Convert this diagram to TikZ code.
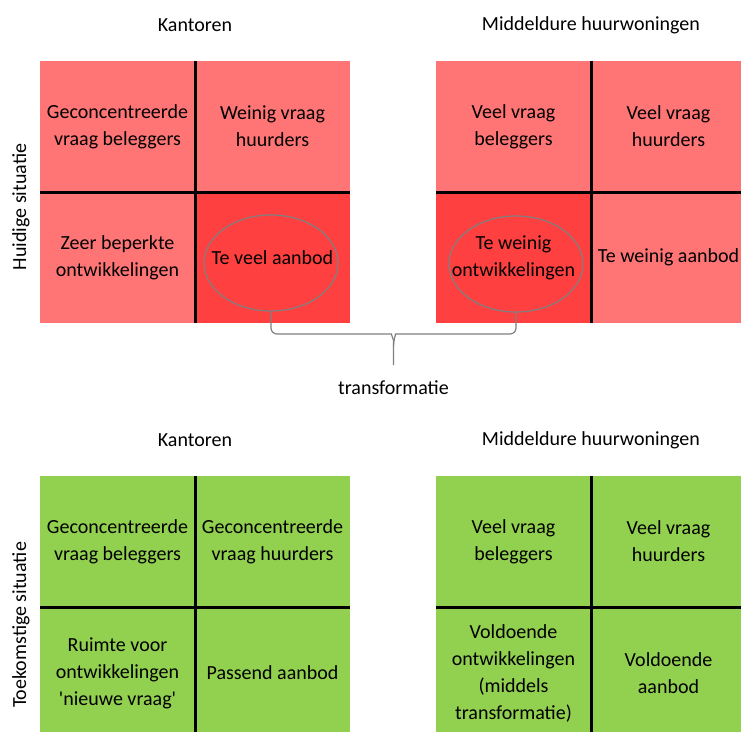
\documentclass[tikz,border=0pt]{standalone}
\usepackage{fontspec}
\setmainfont{Carlito}
\usetikzlibrary{positioning,calc,shapes.geometric}

\definecolor{roodlicht}{RGB}{255,117,117}
\definecolor{rooddonker}{RGB}{255,64,64}
\definecolor{groen}{RGB}{146,208,80}
\definecolor{grijs}{RGB}{128,128,128}

\tikzset{
  tekst/.style={font=\fontsize{20}{27}\selectfont},
  cel/.style={tekst,minimum width=155pt,minimum height=131pt,inner sep=0pt,align=center},
  deler/.style={line width=3pt,black},
  ovaal/.style={ellipse,draw=grijs,line width=1.2pt,minimum width=134pt,minimum height=96pt},
  accolade/.style={grijs,line width=1.2pt,rounded corners=6pt},
}

\begin{document}
\begin{tikzpicture}[x=1pt,y=-1pt]
      \clip (0,0) rectangle (741,731);

      % huidige situatie, kantoren
      \node[tekst] (titelKa) at (195,25) {Kantoren};
      \node[cel,fill=roodlicht] (ka11) at (117.5,126.5) {Geconcentreerde\\vraag beleggers};
      \node[cel,fill=roodlicht] (ka12) at (272.5,126.5) {Weinig vraag\\huurders};
      \node[cel,fill=roodlicht] (ka21) at (117.5,257.5) {Zeer beperkte\\ontwikkelingen};
      \node[cel,fill=rooddonker] (ka22) at (272.5,257.5) {Te veel aanbod};
      \draw[deler] (ka11.north east) -- (ka21.south east); % verticale deler
      \draw[deler] (ka11.south west) -- (ka12.south east); % horizontale deler
      \node[ovaal] (teVeel) at (271,263) {};

      % huidige situatie, middeldure huurwoningen
      \node[tekst] (titelWo) at (591,25) {Middeldure huurwoningen};
      \node[cel,fill=roodlicht] (wo11) at (513.5,126.5) {Veel vraag\\beleggers};
      \node[cel,fill=roodlicht] (wo12) at (668.5,126.5) {Veel vraag\\huurders};
      \node[cel,fill=rooddonker] (wo21) at (513.5,257.5) {Te weinig\\ontwikkelingen};
      \node[cel,fill=roodlicht] (wo22) at (668.5,257.5) {Te weinig aanbod};
      \draw[deler] (wo11.north east) -- (wo21.south east); % verticale deler
      \draw[deler] (wo11.south west) -- (wo12.south east); % horizontale deler
      \node[ovaal] (teWeinig) at (516,264) {};

      \node[tekst,rotate=90] (huidig) at (21,207) {Huidige situatie};

      % accolade transformatie
      \coordinate (punt) at (393.5,365);
      \draw[accolade] (teVeel.south) |- ($(punt)+(-8,-31)$) to[out=0,in=90] ($(punt)+(0,-19)$) -- (punt);
      \draw[accolade] (teWeinig.south) |- ($(punt)+(8,-31)$) to[out=180,in=90] ($(punt)+(0,-19)$);
      \node[tekst,inner sep=0pt,below=15pt of punt] (transf) {transformatie};

      % toekomstige situatie, kantoren
      \node[tekst] (titelKb) at (195,440) {Kantoren};
      \node[cel,fill=groen] (kb11) at (117.5,541.5) {Geconcentreerde\\vraag beleggers};
      \node[cel,fill=groen] (kb12) at (272.5,541.5) {Geconcentreerde\\vraag huurders};
      \node[cel,fill=groen] (kb21) at (117.5,673) {Ruimte voor\\ontwikkelingen\\\textquotesingle nieuwe vraag\textquotesingle};
      \node[cel,fill=groen] (kb22) at (272.5,673) {Passend aanbod};
      \draw[deler] (kb11.north east) -- (kb21.south east); % verticale deler
      \draw[deler] (kb11.south west) -- (kb12.south east); % horizontale deler

      % toekomstige situatie, middeldure huurwoningen
      \node[tekst] (titelWb) at (591,440) {Middeldure huurwoningen};
      \node[cel,fill=groen] (wb11) at (513.5,541.5) {Veel vraag\\beleggers};
      \node[cel,fill=groen] (wb12) at (668.5,541.5) {Veel vraag\\huurders};
      \node[cel,fill=groen] (wb21) at (513.5,673) {Voldoende\\ontwikkelingen\\(middels\\transformatie)};
      \node[cel,fill=groen] (wb22) at (668.5,673) {Voldoende\\aanbod};
      \draw[deler] (wb11.north east) -- (wb21.south east); % verticale deler
      \draw[deler] (wb11.south west) -- (wb12.south east); % horizontale deler

      \node[tekst,rotate=90] (toekomst) at (21,625) {Toekomstige situatie};
\end{tikzpicture}
\end{document}
